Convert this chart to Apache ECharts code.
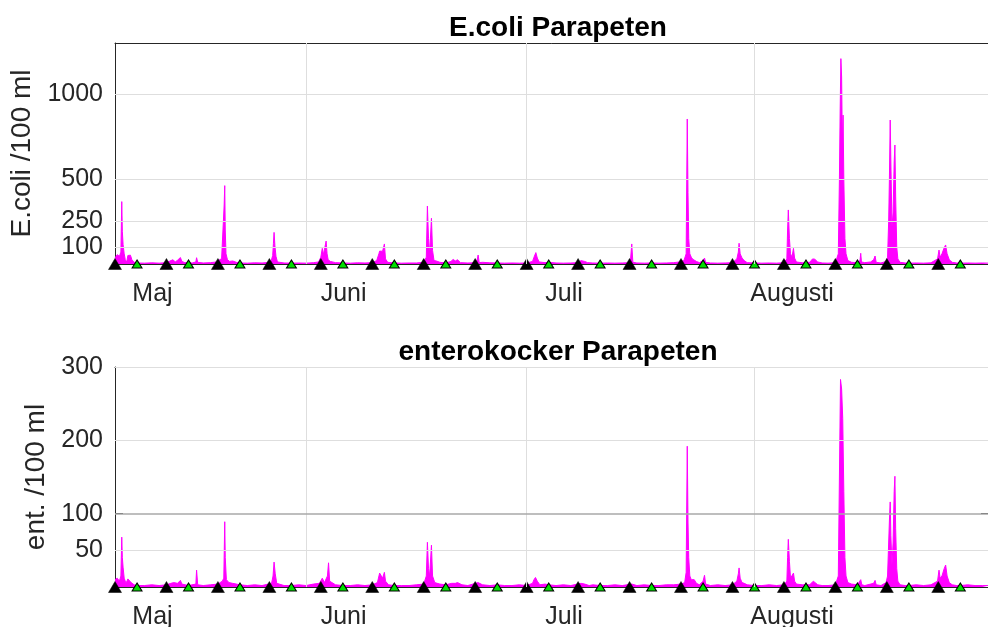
<!DOCTYPE html>
<html>
<head>
<meta charset="utf-8">
<script src="https://cdn.jsdelivr.net/npm/echarts@6/dist/echarts.min.js"></script>
<style>
  html, body { margin: 0; padding: 0; background: #fff; }
  #chart { width: 988px; height: 627px; }
</style>
</head>
<body>
<div id="chart"></div>
<script>
// Time axis: days counted from 1 May (1 May = 0).
const dayMin = 5;
const dayMax = 123.9;
const monthStarts = [0, 31, 61, 92];
const monthNames = ['Maj', 'Juni', 'Juli', 'Augusti'];

// Weekly sampling occasions (days from 1 May)
const sampleDaysA = [5, 12, 19, 26, 33, 40, 47, 54, 61, 68, 75, 82, 89, 96, 103, 110, 117];
const sampleDaysB = [8, 15, 22, 29, 36, 43, 50, 57, 64, 71, 78, 85, 92, 99, 106, 113, 120];

// Y ticks
const ecoliTicks = [100, 250, 500, 1000];
const entTicks = [50, 100, 200, 300];
const entLimit = 100;

// Modelled E.coli, cfu/100 ml: [day, value]
const ecoli = [
  [5.0, 35], [5.3, 55], [5.6, 45], [5.8, 70], [5.92, 367], [6.0, 190], [6.1, 115], [6.25, 60], [6.4, 25], [6.6, 12],
  [6.75, 50], [6.9, 58], [7.1, 52], [7.3, 25], [7.6, 10], [8.0, 6], [9, 5], [10, 7], [11, 5], [12, 8],
  [12.6, 20], [12.9, 25], [13.2, 12], [13.5, 22], [13.9, 38], [14.1, 15], [14.5, 8], [15.5, 6], [16.0, 12], [16.1, 37],
  [16.25, 10], [17, 6], [18, 8], [18.8, 12], [19.2, 25], [19.5, 30], [19.75, 40], [19.85, 347], [19.93, 461], [20.0, 200],
  [20.1, 60], [20.3, 25], [20.6, 15], [21, 18], [21.5, 10], [22, 6], [23, 5], [24, 7], [25, 6], [26.2, 10],
  [26.45, 50], [26.55, 120], [26.64, 186], [26.75, 110], [26.9, 45], [27.1, 12], [28, 6], [29, 5], [30, 6], [31, 5],
  [32, 8], [32.7, 12], [33.0, 40], [33.2, 92], [33.35, 55], [33.5, 60], [33.72, 135], [33.85, 60], [34.0, 25], [34.3, 15],
  [35, 8], [36, 6], [37, 5], [38, 7], [39, 6], [40, 8], [40.6, 20], [40.9, 60], [41.0, 76], [41.2, 70],
  [41.4, 75], [41.65, 118], [41.8, 30], [42.1, 10], [43, 6], [44, 5], [45, 6], [46, 6], [47.0, 10], [47.35, 40],
  [47.5, 341], [47.65, 150], [47.8, 60], [48.05, 269], [48.2, 80], [48.4, 20], [48.7, 18], [49.2, 10], [50, 6], [50.7, 15],
  [51.0, 27], [51.3, 18], [51.6, 25], [52, 8], [53, 6], [54.2, 8], [54.4, 53], [54.55, 8], [55, 10], [56, 7],
  [57, 6], [58, 5], [59, 6], [60, 5], [61, 6], [61.8, 15], [62.0, 40], [62.25, 67], [62.45, 35], [62.7, 12],
  [63.5, 8], [64, 10], [65, 6], [66, 5], [67, 6], [68, 8], [68.4, 20], [68.6, 27], [68.9, 15], [69.3, 8],
  [70, 6], [71, 5], [72, 6], [73, 5], [74, 6], [75.1, 8], [75.3, 118], [75.45, 10], [76, 6], [77, 5],
  [78, 6], [79, 5], [80, 6], [81, 8], [81.8, 12], [82.4, 20], [82.7, 60], [82.85, 853], [82.95, 420], [83.05, 150],
  [83.2, 60], [83.4, 40], [83.6, 28], [83.8, 35], [84.1, 15], [84.5, 8], [85.0, 20], [85.2, 35], [85.35, 10], [86, 6],
  [87, 5], [88, 6], [89, 8], [89.6, 30], [89.8, 70], [89.9, 122], [90.05, 60], [90.3, 35], [90.6, 20], [91, 8],
  [92, 6], [93, 5], [94, 6], [95, 5], [96, 8], [96.4, 30], [96.5, 200], [96.6, 318], [96.75, 150], [96.9, 60],
  [97.1, 40], [97.3, 92], [97.45, 35], [97.7, 12], [98.5, 7], [99.5, 10], [99.9, 30], [100.2, 28], [100.6, 12], [101.2, 6],
  [102, 5], [103, 8], [103.4, 60], [103.55, 500], [103.65, 900], [103.75, 1208], [103.85, 1100], [103.95, 700], [104.05, 876], [104.15, 500],
  [104.3, 150], [104.45, 60], [104.7, 20], [105.2, 10], [106, 8], [106.35, 20], [106.45, 63], [106.55, 12], [107, 8], [107.8, 12],
  [108.2, 25], [108.4, 47], [108.55, 10], [109.2, 6], [109.9, 15], [110.1, 40], [110.25, 250], [110.35, 500], [110.46, 847], [110.55, 600],
  [110.7, 220], [110.85, 300], [111.0, 600], [111.1, 700], [111.2, 400], [111.35, 100], [111.5, 30], [111.8, 10], [112.5, 6], [113, 5],
  [114, 6], [115, 5], [116, 7], [116.9, 30], [117.1, 82], [117.25, 40], [117.5, 60], [117.8, 95], [118.0, 112], [118.2, 60],
  [118.5, 25], [118.9, 10], [119.5, 6], [120, 5], [121, 6], [122, 5], [123, 6], [123.9, 5]
];

// Modelled enterococci, cfu/100 ml: [day, value]
const ent = [
  [5.0, 10], [5.3, 12], [5.6, 8], [5.8, 15], [5.92, 68], [6.0, 40], [6.1, 27], [6.25, 12], [6.5, 5], [6.75, 11],
  [6.95, 11], [7.2, 6], [7.6, 3], [8, 2], [9, 2], [10, 3], [11, 2], [12, 3], [12.6, 5], [13, 6],
  [13.5, 5], [13.9, 9], [14.1, 4], [15, 2], [16.0, 4], [16.1, 23], [16.25, 3], [17, 2], [18, 3], [19, 4],
  [19.6, 8], [19.8, 12], [19.93, 89], [20.0, 40], [20.15, 10], [20.5, 6], [21, 5], [22, 3], [23, 2], [24, 3],
  [25, 2], [26.3, 5], [26.5, 15], [26.64, 34], [26.8, 18], [27.0, 5], [28, 2], [29, 2], [30, 3], [31, 2],
  [32, 4], [32.8, 5], [33.2, 12], [33.5, 6], [33.9, 15], [34.05, 33], [34.2, 8], [35, 3], [36, 2], [37, 2],
  [38, 3], [39, 2], [40, 3], [40.7, 6], [41.0, 19], [41.2, 18], [41.4, 12], [41.65, 20], [41.8, 8], [42.2, 3],
  [43, 2], [44, 2], [45, 2], [46, 3], [47.0, 4], [47.35, 15], [47.5, 61], [47.65, 25], [47.8, 15], [48.05, 57],
  [48.2, 15], [48.5, 6], [49.2, 4], [50, 3], [50.8, 5], [51.0, 7], [51.3, 5], [51.6, 6], [52.2, 3], [53, 2],
  [54.4, 6], [55, 3], [56, 2], [57, 3], [58, 2], [59, 2], [60, 3], [61, 2], [61.8, 5], [62.0, 10],
  [62.2, 13], [62.45, 8], [62.8, 3], [63.5, 4], [64, 3], [65, 2], [66, 3], [67, 2], [68.4, 5], [68.6, 7],
  [68.9, 4], [69.5, 2], [70, 3], [71, 2], [72, 2], [73, 3], [74, 2], [75.3, 4], [76, 2], [77, 3],
  [78, 2], [79, 2], [80, 3], [81, 3], [82, 4], [82.5, 6], [82.7, 20], [82.85, 192], [82.95, 90], [83.05, 40],
  [83.2, 15], [83.4, 10], [83.6, 8], [83.8, 10], [84.1, 5], [84.5, 3], [85.0, 8], [85.2, 16], [85.35, 4], [86, 2],
  [87, 3], [88, 2], [89, 3], [89.6, 8], [89.8, 18], [89.9, 26], [90.05, 12], [90.3, 6], [90.6, 5], [91, 3],
  [92, 2], [93, 2], [94, 3], [95, 2], [96, 3], [96.4, 8], [96.5, 40], [96.6, 65], [96.75, 35], [96.9, 12],
  [97.1, 10], [97.3, 19], [97.45, 8], [97.7, 4], [98.5, 3], [99.5, 3], [100.0, 8], [100.2, 7], [100.6, 3], [101.2, 2],
  [102, 2], [103, 3], [103.4, 15], [103.55, 150], [103.7, 283], [103.85, 270], [104.0, 230], [104.15, 130], [104.3, 40], [104.45, 15],
  [104.7, 6], [105.2, 4], [106, 3], [106.45, 10], [106.6, 3], [107, 2], [108.2, 5], [108.4, 9], [108.55, 3], [109.2, 2],
  [109.9, 6], [110.1, 15], [110.25, 60], [110.35, 90], [110.46, 116], [110.55, 70], [110.7, 30], [110.85, 60], [111.0, 130], [111.1, 151],
  [111.2, 80], [111.35, 25], [111.5, 8], [111.8, 3], [112.5, 2], [113, 2], [114, 3], [115, 2], [116, 3], [116.9, 8],
  [117.1, 23], [117.25, 12], [117.5, 15], [117.8, 25], [118.0, 30], [118.2, 15], [118.5, 6], [118.9, 3], [119.5, 2], [120, 2],
  [121, 3], [122, 2], [123, 2], [123.9, 2]
];

const FONT = 'Arial, "Liberation Sans", Helvetica, sans-serif';
const AXIS_COLOR = '#262626';
const GRID_COLOR = '#dedede';
const FILL = '#ff00ff';

const monthTicks = monthStarts.filter(d => d > dayMin && d < dayMax);
// Month names sit a few days after the month start (or after the left edge)
const labelDays = monthStarts.map(d => Math.max(d, dayMin) + 5.1);
function monthName(v) {
  const i = labelDays.findIndex(d => Math.abs(d - v) < 0.01);
  return i >= 0 ? monthNames[i] : '';
}

const panels = [
  { title: 'E.coli Parapeten', yName: 'E.coli /100 ml', yMax: 1300, ticks: ecoliTicks, data: ecoli, top: 43, height: 221, nameGap: 70 },
  { title: 'enterokocker Parapeten', yName: 'ent. /100 ml', yMax: 300, ticks: entTicks, data: ent, top: 367, height: 220, nameGap: 57 }
];

const grid = [], xAxis = [], yAxis = [], series = [], title = [];

panels.forEach((p, k) => {
  grid.push({ left: 115, right: -1, top: p.top, height: p.height, outerBoundsMode: 'none', containLabel: false });
  title.push({
    text: p.title, left: 553, top: p.top - 34, textAlign: 'center',
    textStyle: { fontFamily: FONT, fontSize: 28, fontWeight: 'bold', color: '#000' }
  });
  // bottom x axis with month names
  xAxis.push({
    type: 'value', gridIndex: k, min: dayMin, max: dayMax, position: 'bottom',
    axisLine: { show: true, onZero: false, lineStyle: { color: AXIS_COLOR, width: 1 } },
    axisTick: { show: true, inside: true, length: 8, customValues: monthTicks, lineStyle: { color: AXIS_COLOR } },
    axisLabel: { show: true, customValues: labelDays, formatter: monthName, margin: 18,
      fontFamily: FONT, fontSize: 25, color: AXIS_COLOR, hideOverlap: false },
    splitLine: { show: false }
  });
  // top border of the box
  xAxis.push({
    type: 'value', gridIndex: k, min: dayMin, max: dayMax, position: 'top',
    axisLine: { show: true, onZero: false, lineStyle: { color: AXIS_COLOR, width: 1 } },
    axisTick: { show: true, inside: true, length: 8, customValues: monthTicks, lineStyle: { color: AXIS_COLOR } },
    axisLabel: { show: false }, splitLine: { show: false }
  });
  yAxis.push({
    type: 'value', gridIndex: k, min: 0, max: p.yMax, position: 'left',
    name: p.yName, nameLocation: 'middle', nameRotate: 90, nameGap: p.nameGap,
    nameTextStyle: { fontFamily: FONT, fontSize: 28, color: AXIS_COLOR },
    axisLine: { show: true, onZero: false, lineStyle: { color: AXIS_COLOR, width: 1 } },
    axisTick: { show: true, inside: true, length: 8, customValues: p.ticks, lineStyle: { color: AXIS_COLOR } },
    axisLabel: { show: true, customValues: p.ticks, margin: 12, formatter: v => String(v),
      fontFamily: FONT, fontSize: 25, color: AXIS_COLOR },
    splitLine: { show: false }
  });
  yAxis.push({
    type: 'value', gridIndex: k, min: 0, max: p.yMax, position: 'right',
    axisLine: { show: true, onZero: false, lineStyle: { color: AXIS_COLOR, width: 1 } },
    axisTick: { show: true, inside: true, length: 8, customValues: p.ticks, lineStyle: { color: AXIS_COLOR } },
    axisLabel: { show: false }, splitLine: { show: false }
  });

  const xi = 2 * k, yi = 2 * k;
  // grid lines (months vertically, y ticks horizontally)
  const lines = monthTicks.map(d => ({ xAxis: d }))
    .concat(p.ticks.map(v => ({
      yAxis: v,
      lineStyle: (k === 1 && v === entLimit) ? { color: '#a8a8a8', width: 1.5, type: 'solid' } : undefined
    })));
  series.push({
    type: 'line', xAxisIndex: xi, yAxisIndex: yi, data: [], z: 1, silent: true,
    markLine: {
      silent: true, symbol: ['none', 'none'], animation: false,
      label: { show: false },
      lineStyle: { color: GRID_COLOR, width: 1, type: 'solid' },
      data: lines
    }
  });
  series.push({
    type: 'line', xAxisIndex: xi, yAxisIndex: yi, data: p.data, z: 2,
    showSymbol: false, symbol: 'none', animation: false,
    lineStyle: { color: FILL, width: 1 },
    areaStyle: { color: FILL, opacity: 1, origin: 'start' }
  });
  series.push({
    type: 'scatter', xAxisIndex: xi, yAxisIndex: yi, z: 4, clip: false, animation: false,
    data: sampleDaysA.map(d => [d, 0]),
    symbol: 'triangle', symbolSize: [13, 11],
    itemStyle: { color: '#000', borderColor: '#000', borderWidth: 0.5, opacity: 1 }
  });
  series.push({
    type: 'scatter', xAxisIndex: xi, yAxisIndex: yi, z: 4, clip: false, animation: false,
    data: sampleDaysB.map(d => [d, 0]),
    symbol: 'triangle', symbolSize: [10, 8],
    itemStyle: { color: '#00e000', borderColor: '#000', borderWidth: 1, opacity: 1 }
  });
});

const chart = echarts.init(document.getElementById('chart'), null, { renderer: 'canvas' });
chart.setOption({
  animation: false,
  backgroundColor: '#ffffff',
  title, grid, xAxis, yAxis, series
});
</script>
</body>
</html>
